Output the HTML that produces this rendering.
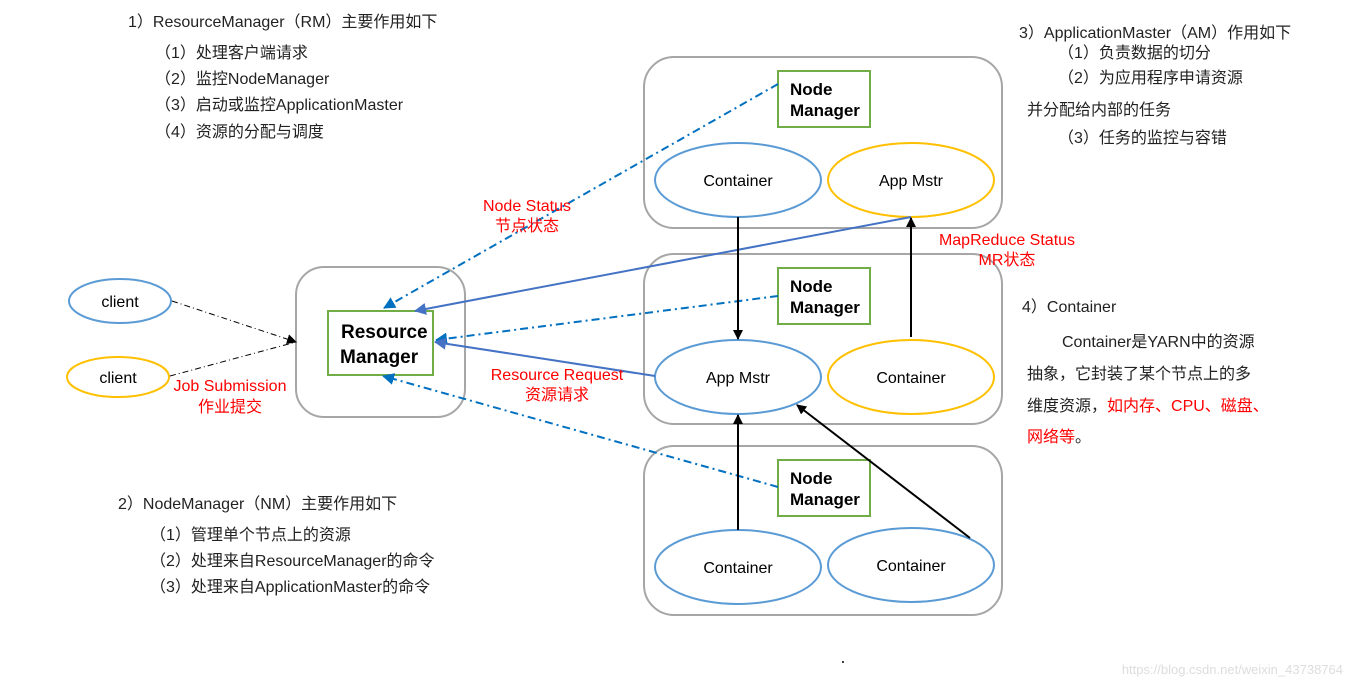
<!DOCTYPE html>
<html><head><meta charset="utf-8"><style>
body{margin:0;background:#fff}
svg{display:block}
.t{font-family:"Liberation Sans","Noto Sans CJK SC",sans-serif;font-size:16px;fill:#222}
.b{font-family:"Liberation Sans",sans-serif;font-weight:bold;font-size:17px;fill:#000}
.e{font-family:"Liberation Sans",sans-serif;font-size:16px;fill:#000}
.r{font-family:"Liberation Sans","Noto Sans CJK SC",sans-serif;font-size:16px;fill:#f00}
</style></head><body>
<svg width="1352" height="688" viewBox="0 0 1352 688" xmlns="http://www.w3.org/2000/svg">
<defs>
<marker id="ab" markerWidth="10" markerHeight="10" refX="9" refY="5" orient="auto" markerUnits="userSpaceOnUse"><path d="M0,0 L10,5 L0,10 z" fill="#000"/></marker>
<marker id="abl" markerWidth="12" markerHeight="12" refX="11" refY="6" orient="auto" markerUnits="userSpaceOnUse"><path d="M0,0 L12,6 L0,12 z" fill="#4472c4"/></marker>
<marker id="ac" markerWidth="12" markerHeight="12" refX="11" refY="6" orient="auto" markerUnits="userSpaceOnUse"><path d="M0,0 L12,6 L0,12 z" fill="#0070c0"/></marker>
</defs>
<g fill="none" stroke="#a6a6a6" stroke-width="2">
<rect x="644" y="57" width="358" height="171" rx="30"/>
<rect x="644" y="254" width="358" height="170" rx="30"/>
<rect x="644" y="446" width="358" height="169" rx="30"/>
<rect x="296" y="267" width="169" height="150" rx="28"/>
</g>
<g fill="#fff" stroke="#70ad47" stroke-width="2">
<rect x="328" y="311" width="105" height="64"/>
<rect x="778" y="71" width="92" height="56"/>
<rect x="778" y="268" width="92" height="56"/>
<rect x="778" y="460" width="92" height="56"/>
</g>
<g fill="none" stroke-width="2">
<ellipse cx="738" cy="180" rx="83" ry="37" stroke="#5b9bd5"/>
<ellipse cx="911" cy="180" rx="83" ry="37" stroke="#ffc000"/>
<ellipse cx="738" cy="377" rx="83" ry="37" stroke="#5b9bd5"/>
<ellipse cx="911" cy="377" rx="83" ry="37" stroke="#ffc000"/>
<ellipse cx="738" cy="567" rx="83" ry="37" stroke="#5b9bd5"/>
<ellipse cx="911" cy="565" rx="83" ry="37" stroke="#5b9bd5"/>
<ellipse cx="120" cy="301" rx="51" ry="22" stroke="#5b9bd5"/>
<ellipse cx="118" cy="377" rx="51" ry="20" stroke="#ffc000"/>
</g>
<g fill="none" stroke="#000" stroke-width="1" stroke-dasharray="6,3,1,3">
<line x1="172" y1="301" x2="296" y2="342" marker-end="url(#ab)"/>
<line x1="170" y1="376" x2="296" y2="342"/>
</g>
<g fill="none" stroke="#0070c0" stroke-width="2" stroke-dasharray="8,4,2,4">
<line x1="778" y1="84" x2="384" y2="308" marker-end="url(#ac)"/>
<line x1="778" y1="296" x2="436" y2="340" marker-end="url(#ac)"/>
<line x1="778" y1="487" x2="383" y2="376" marker-end="url(#ac)"/>
</g>
<g fill="none" stroke="#4472c4" stroke-width="2">
<line x1="911" y1="217" x2="415" y2="311" marker-end="url(#abl)"/>
<line x1="655" y1="376" x2="435" y2="342" marker-end="url(#abl)"/>
</g>
<g fill="none" stroke="#000" stroke-width="2">
<line x1="738" y1="217" x2="738" y2="339" marker-end="url(#ab)"/>
<line x1="911" y1="337" x2="911" y2="218" marker-end="url(#ab)"/>
<line x1="738" y1="530" x2="738" y2="415" marker-end="url(#ab)"/>
<line x1="970" y1="538" x2="797" y2="405" marker-end="url(#ab)"/>
</g>
<g class="b">
<text x="790" y="95">Node</text><text x="790" y="116">Manager</text>
<text x="790" y="292">Node</text><text x="790" y="313">Manager</text>
<text x="790" y="484">Node</text><text x="790" y="505">Manager</text>
<text x="341" y="338" font-size="19">Resource</text><text x="340" y="363" font-size="19">Manager</text>
</g>
<g class="e" text-anchor="middle">
<text x="738" y="186">Container</text><text x="911" y="186">App Mstr</text>
<text x="738" y="383">App Mstr</text><text x="911" y="383">Container</text>
<text x="738" y="573">Container</text><text x="911" y="571">Container</text>
<text x="120" y="307">client</text><text x="118" y="383">client</text>
</g>
<g class="r" text-anchor="middle">
<text x="527" y="211">Node Status</text><text x="527" y="231">节点状态</text>
<text x="1007" y="245">MapReduce Status</text><text x="1007" y="265">MR状态</text>
<text x="557" y="380">Resource Request</text><text x="557" y="400">资源请求</text>
<text x="230" y="391">Job Submission</text><text x="230" y="412">作业提交</text>
</g>
<g class="t">
<text x="128" y="27">1）ResourceManager（RM）主要作用如下</text>
<text x="155" y="58">（1）处理客户端请求</text>
<text x="155" y="84">（2）监控NodeManager</text>
<text x="155" y="110">（3）启动或监控ApplicationMaster</text>
<text x="155" y="137">（4）资源的分配与调度</text>
<text x="118" y="509">2）NodeManager（NM）主要作用如下</text>
<text x="150" y="540">（1）管理单个节点上的资源</text>
<text x="150" y="566">（2）处理来自ResourceManager的命令</text>
<text x="150" y="592">（3）处理来自ApplicationMaster的命令</text>
<text x="1019" y="38">3）ApplicationMaster（AM）作用如下</text>
<text x="1058" y="58">（1）负责数据的切分</text>
<text x="1058" y="83">（2）为应用程序申请资源</text>
<text x="1027" y="115">并分配给内部的任务</text>
<text x="1058" y="143">（3）任务的监控与容错</text>
<text x="1022" y="312">4）Container</text>
<text x="1062" y="347">Container是YARN中的资源</text>
<text x="1027" y="379">抽象，它封装了某个节点上的多</text>
<text x="1027" y="411">维度资源，<tspan fill="#f00">如内存、CPU、磁盘、</tspan></text>
<text x="1027" y="442"><tspan fill="#f00">网络等</tspan>。</text>
<text x="1343" y="674" font-size="13" fill="#ddd" text-anchor="end">https://blog.csdn.net/weixin_43738764</text>
</g>
<circle cx="843" cy="662" r="1" fill="#000"/>
</svg>
</body></html>
